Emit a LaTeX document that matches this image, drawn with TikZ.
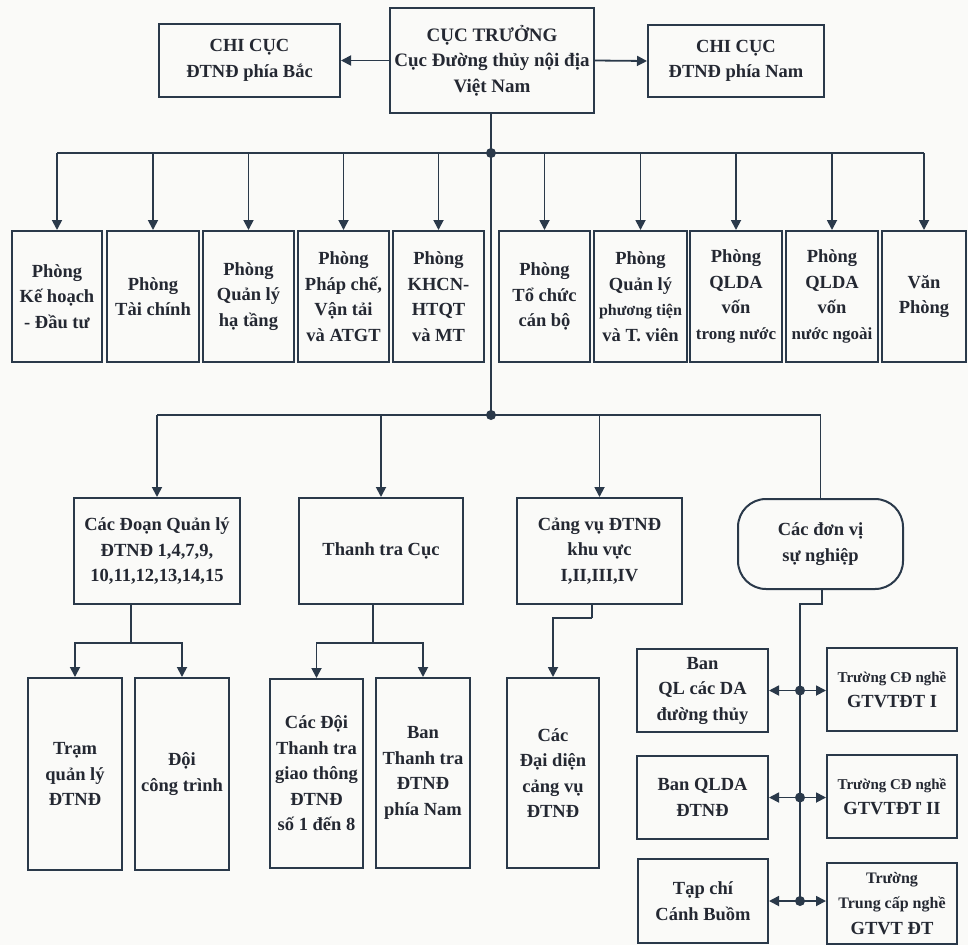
\documentclass[tikz,border=0pt]{standalone}
\usepackage{fontspec}
\setmainfont{Liberation Serif}
\usetikzlibrary{arrows.meta}
\definecolor{lc}{RGB}{42,57,74}
\definecolor{tc}{RGB}{36,40,50}
\definecolor{bgc}{RGB}{250,250,248}
\tikzset{
  bx/.style={draw=lc, line width=2pt, inner sep=0pt, align=center, text=tc,
    font={\fontsize{18.5}{25.5}\selectfont\bfseries}},
  rbx/.style={bx, rounded corners=28pt},
  conn/.style={draw=lc, line width=1.8pt},
  arr/.style={conn, -{Triangle[length=10pt,width=10pt]}},
  jdot/.style={circle, fill=lc, inner sep=0pt, minimum size=10pt},
}
\newcommand{\sm}[2]{{\fontsize{#1}{25.5}\selectfont #2}}
\begin{document}
\begin{tikzpicture}[x=1pt,y=-1pt]
\fill[bgc] (0,0) rectangle (968,945);
\useasboundingbox (0,0) rectangle (968,945);

% top row
\node[bx, minimum width=181pt, minimum height=73pt] (bac) at (249.5,60.5) {CHI CỤC\\ĐTNĐ phía Bắc};
\node[bx, minimum width=204pt, minimum height=105pt, font={\fontsize{19}{25.5}\selectfont\bfseries}] (cuc) at (492,60.5) {CỤC TRƯỞNG\\Cục Đường thủy nội địa\\Việt Nam};
\node[bx, minimum width=176pt, minimum height=72pt] (nam) at (736,61) {CHI CỤC\\ĐTNĐ phía Nam};
\draw[arr] (cuc.west) -- (bac.east);
\draw[arr] (cuc.east) -- (nam.west);

% department row
\node[bx, minimum width=90pt, minimum height=131pt] (d1) at (57,296.5) {Phòng\\Kế hoạch\\- Đầu tư};
\node[bx, minimum width=92pt, minimum height=131pt] (d2) at (153,296.5) {Phòng\\Tài chính};
\node[bx, minimum width=91pt, minimum height=131pt] (d3) at (248.5,296.5) {Phòng\\Quản lý\\hạ tầng};
\node[bx, minimum width=91pt, minimum height=131pt] (d4) at (343.5,296.5) {Phòng\\Pháp chế,\\Vận tải\\và ATGT};
\node[bx, minimum width=91pt, minimum height=131pt] (d5) at (438.5,296.5) {Phòng\\KHCN-\\HTQT\\và MT};
\node[bx, minimum width=91pt, minimum height=131pt] (d6) at (544.5,296.5) {Phòng\\Tổ chức\\cán bộ};
\node[bx, minimum width=93pt, minimum height=131pt] (d7) at (640.5,296.5) {Phòng\\Quản lý\\\sm{16}{phương tiện}\\và T. viên};
\node[bx, minimum width=92pt, minimum height=131pt] (d8) at (736,296.5) {Phòng\\QLDA\\vốn\\\sm{17}{trong nước}};
\node[bx, minimum width=92pt, minimum height=131pt] (d9) at (832,296.5) {Phòng\\QLDA\\vốn\\\sm{17}{nước ngoài}};
\node[bx, minimum width=84pt, minimum height=131pt] (d10) at (924,296.5) {Văn\\Phòng};

% main trunk
\coordinate (b1) at (491,153);
\coordinate (b2) at (491,415);
\draw[conn] (cuc.south -| b1) -- (b2);
\draw[conn] (b1 -| d1.north) -- (b1 -| d10.north);
\foreach \n in {d1,d2,d3,d4,d5,d6,d7,d8,d9,d10}{
  \draw[arr] (b1 -| \n.north) -- (\n.north);
}
\node[jdot] (j1) at (b1) {};

% second level
\node[bx, minimum width=166pt, minimum height=106pt] (doan) at (157,551) {Các Đoạn Quản lý\\ĐTNĐ 1,4,7,9,\\10,11,12,13,14,15};
\node[bx, minimum width=164pt, minimum height=106pt] (ttc) at (381,551) {Thanh tra Cục};
\node[bx, minimum width=165pt, minimum height=106pt] (cv) at (599.5,551) {Cảng vụ ĐTNĐ\\khu vực\\I,II,III,IV};
\node[rbx, minimum width=165pt, minimum height=90pt] (dvsn) at (820.5,544) {Các đơn vị\\sự nghiệp};

\draw[conn] (b2 -| doan.north) -- (b2 -| dvsn.north) -- (dvsn.north);
\foreach \n in {doan,ttc,cv}{
  \draw[arr] (b2 -| \n.north) -- (\n.north);
}
\node[jdot] (j2) at (b2) {};

% third level
\node[bx, minimum width=94pt, minimum height=192pt] (tram) at (75,774) {Trạm\\quản lý\\ĐTNĐ};
\node[bx, minimum width=94pt, minimum height=192pt] (doi) at (182,774) {Đội\\công trình};
\node[bx, minimum width=93pt, minimum height=189pt] (cacdoi) at (316.5,773.5) {Các Đội\\Thanh tra\\giao thông\\ĐTNĐ\\số 1 đến 8};
\node[bx, minimum width=94pt, minimum height=190pt] (banttr) at (423,773) {Ban\\Thanh tra\\ĐTNĐ\\phía Nam};
\node[bx, minimum width=92pt, minimum height=190pt] (daidien) at (553,773) {Các\\Đại diện\\cảng vụ\\ĐTNĐ};

\coordinate (k1) at (131,643);
\draw[conn] (doan.south -| k1) -- (k1);
\draw[arr] (k1) -| (tram.north);
\draw[arr] (k1) -| (doi.north);

\coordinate (k2) at (373,643);
\draw[conn] (ttc.south -| k2) -- (k2);
\draw[arr] (k2) -| (cacdoi.north);
\draw[arr] (k2) -| (banttr.north);

\coordinate (k3) at (592,618);
\draw[conn] (cv.south -| k3) -- (k3);
\draw[arr] (k3) -| (daidien.north);

% don vi su nghiep
\node[bx, minimum width=131pt, minimum height=83pt] (banql) at (702.5,690.5) {Ban\\QL các DA\\đường thủy};
\node[bx, minimum width=131pt, minimum height=83pt] (banqlda) at (702.5,797.5) {Ban QLDA\\ĐTNĐ};
\node[bx, minimum width=130pt, minimum height=84pt] (tapchi) at (703,901) {Tạp chí\\Cánh Buồm};
\node[bx, minimum width=130pt, minimum height=83pt] (tr1) at (892,689.5) {\sm{15}{Trường CĐ nghề}\\GTVTĐT I};
\node[bx, minimum width=130pt, minimum height=83pt] (tr2) at (892,796.5) {\sm{15}{Trường CĐ nghề}\\GTVTĐT II};
\node[bx, minimum width=130pt, minimum height=81pt] (tr3) at (892,903.5) {\sm{16}{Trường}\\\sm{16}{Trung cấp nghề}\\GTVT ĐT};

\coordinate (m0) at (822,604);
\coordinate (vb) at (800,901);
\draw[conn] (dvsn.south -| m0) -- (m0) -- (m0 -| vb) -- (vb);
\foreach \l/\r [count=\i] in {banql/tr1,banqlda/tr2,tapchi/tr3}{
  \coordinate (q\i) at (vb |- \l.east);
  \draw[arr] (q\i) -- (\l.east);
  \draw[arr] (q\i) -- (q\i -| \r.west);
  \node[jdot] (p\i) at (q\i) {};
}
\end{tikzpicture}
\end{document}
